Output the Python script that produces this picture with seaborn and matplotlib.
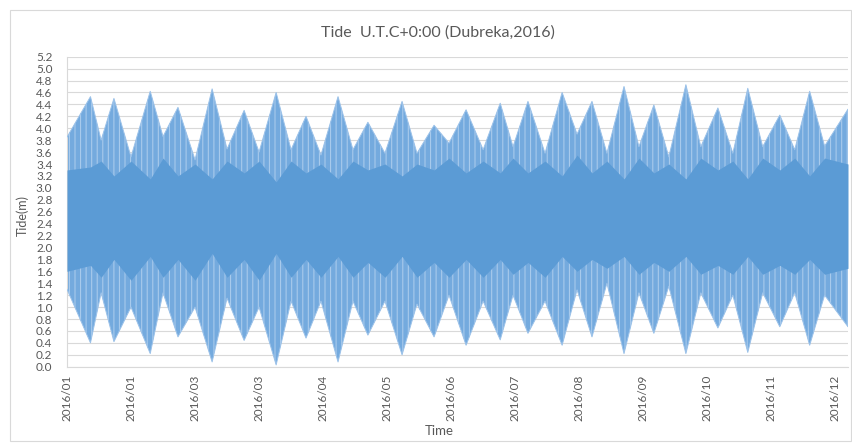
import numpy as np
import pandas as pd
import matplotlib
matplotlib.use("Agg")
import matplotlib.pyplot as plt
import seaborn as sns
from matplotlib.patches import Rectangle

# Envelope nodes (spring peaks and neap dips), metres
node_dates = ["2016-01-01 00:00", "2016-01-12 00:00", "2016-01-17 00:00", "2016-01-23 00:00", "2016-01-31 00:00",
              "2016-02-09 00:00", "2016-02-15 00:00", "2016-02-22 00:00", "2016-03-01 00:00", "2016-03-09 00:00",
              "2016-03-16 00:00", "2016-03-24 00:00", "2016-03-31 00:00", "2016-04-08 00:00", "2016-04-15 00:00",
              "2016-04-22 00:00", "2016-04-29 00:00", "2016-05-07 00:00", "2016-05-14 00:00", "2016-05-21 00:00",
              "2016-05-29 00:00", "2016-06-06 00:00", "2016-06-13 00:00", "2016-06-21 00:00", "2016-06-28 00:00",
              "2016-07-06 00:00", "2016-07-14 00:00", "2016-07-22 00:00", "2016-07-28 00:00", "2016-08-04 00:00",
              "2016-08-12 00:00", "2016-08-20 00:00", "2016-08-27 00:00", "2016-09-03 00:00", "2016-09-10 00:00",
              "2016-09-18 00:00", "2016-09-25 00:00", "2016-10-02 00:00", "2016-10-09 00:00", "2016-10-17 00:00",
              "2016-10-24 00:00", "2016-11-01 00:00", "2016-11-08 00:00", "2016-11-15 00:00", "2016-11-22 00:00",
              "2016-11-30 00:00", "2016-12-07 00:00", "2016-12-14 00:00", "2016-12-21 00:00", "2016-12-31 23:00"]

high_water = [3.85, 4.53, 3.80, 4.50, 3.52, 4.62, 3.86, 4.35, 3.47, 4.66,
              3.65, 4.30, 3.60, 4.60, 3.64, 4.20, 3.55, 4.53, 3.64, 4.10,
              3.58, 4.45, 3.58, 4.05, 3.75, 4.31, 3.64, 4.42, 3.69, 4.45,
              3.58, 4.60, 3.90, 4.45, 3.58, 4.70, 3.69, 4.39, 3.52, 4.73,
              3.69, 4.34, 3.58, 4.67, 3.69, 4.22, 3.64, 4.62, 3.70, 4.32]

low_water = [1.30, 0.40, 1.24, 0.42, 1.00, 0.22, 1.24, 0.50, 1.00, 0.08,
             1.15, 0.44, 1.00, 0.03, 1.10, 0.48, 1.10, 0.08, 1.10, 0.53,
             1.10, 0.20, 1.05, 0.50, 1.20, 0.36, 1.10, 0.45, 1.20, 0.56,
             1.10, 0.36, 1.29, 0.50, 1.40, 0.22, 1.24, 0.56, 1.35, 0.22,
             1.24, 0.65, 1.20, 0.24, 1.24, 0.67, 1.24, 0.36, 1.20, 0.67]

# Dense core band (where most of the hourly curve overlaps)
core_high = [3.30, 3.35, 3.45, 3.20, 3.45, 3.15, 3.50, 3.20, 3.40, 3.15,
             3.45, 3.25, 3.45, 3.10, 3.45, 3.25, 3.40, 3.15, 3.45, 3.30,
             3.40, 3.20, 3.40, 3.30, 3.50, 3.25, 3.45, 3.25, 3.50, 3.25,
             3.45, 3.20, 3.55, 3.25, 3.45, 3.15, 3.50, 3.25, 3.40, 3.15,
             3.50, 3.30, 3.45, 3.15, 3.50, 3.30, 3.50, 3.20, 3.50, 3.40]

core_low = [1.60, 1.70, 1.50, 1.80, 1.45, 1.85, 1.50, 1.80, 1.45, 1.90,
            1.50, 1.80, 1.45, 1.90, 1.50, 1.80, 1.50, 1.85, 1.50, 1.75,
            1.50, 1.85, 1.50, 1.75, 1.50, 1.80, 1.50, 1.80, 1.55, 1.75,
            1.50, 1.85, 1.60, 1.80, 1.65, 1.85, 1.55, 1.75, 1.60, 1.85,
            1.55, 1.70, 1.55, 1.85, 1.55, 1.70, 1.55, 1.80, 1.55, 1.65]

tick_labels = ["2016/01", "2016/01", "2016/03", "2016/03", "2016/04", "2016/05",
               "2016/06", "2016/07", "2016/08", "2016/09", "2016/10", "2016/11",
               "2016/12"]

df = pd.DataFrame({
    "time": pd.to_datetime(node_dates, format="%Y-%m-%d %H:%M"),
    "high": high_water,
    "low": low_water,
    "core_high": core_high,
    "core_low": core_low,
})

sns.set_theme(style="white")
plt.rcParams['font.family'] = ['Lato', 'DejaVu Sans']
plt.rcParams['hatch.linewidth'] = 0.8
plt.rcParams['hatch.color'] = "#A8CAEC"

W, H = 853, 443
fig = plt.figure(figsize=(W / 100, H / 100), dpi=100)
fig.patch.set_facecolor("white")
ax = fig.add_axes([67 / W, 1 - 366.7 / H, 781 / W, 310 / H])

mid = "#74AADE"
dark = "#5B9BD5"
ax.fill_between(df["time"], df["low"], df["high"], facecolor=mid, edgecolor="#A8CAEC",
                hatch="|||", lw=0, zorder=2)
ax.fill_between(df["time"], df["core_low"], df["core_high"], color=dark, lw=0, zorder=3)
sns.lineplot(data=df, x="time", y="high", ax=ax, color="#9CC2E9", lw=0.7, zorder=3)
sns.lineplot(data=df, x="time", y="low", ax=ax, color="#9CC2E9", lw=0.7, zorder=3)

ax.set_ylim(0, 5.2)
yt = np.round(np.arange(0, 5.21, 0.2), 1)
ax.set_yticks(yt)
ax.set_yticklabels([f"{v:.1f}" for v in yt], fontsize=8.5, color="#595959")

ticks = pd.date_range("2016-01-01", periods=13, freq="30D")
ax.set_xlim(pd.Timestamp("2016-01-01"), pd.Timestamp("2016-12-31 23:00"))
ax.set_xticks(ticks)
ax.set_xticklabels(tick_labels, rotation=90, fontsize=8.5, color="#595959")
ax.tick_params(axis="y", length=0, pad=10.5)
ax.tick_params(axis="x", length=0, pad=6)

ax.grid(axis="y", color="#D9D9D9", lw=0.8, zorder=0)
ax.grid(axis="x", visible=False)
ax.set_axisbelow(True)
for s in ["top", "right"]:
    ax.spines[s].set_visible(False)
ax.spines["left"].set_color("#D9D9D9")
ax.spines["bottom"].set_color("#D9D9D9")
ax.spines["left"].set_linewidth(0.8)
ax.spines["bottom"].set_linewidth(0.8)

ax.set_xlabel("")
ax.set_ylabel("")
fig.text(438 / W, 1 - 33 / H, "Tide  U.T.C+0:00 (Dubreka,2016)", ha="center", va="center",
         fontsize=11.5, color="#595959")
fig.text(23 / W, 1 - 215 / H, "Tide(m)", ha="center", va="center", rotation=90,
         fontsize=9, color="#595959")
fig.text(439 / W, 1 - 431 / H, "Time", ha="center", va="center",
         fontsize=9.5, color="#595959")

fig.add_artist(Rectangle((10 / W, 2 / H), (W - 12) / W, (H - 12) / H,
                         transform=fig.transFigure, fill=False,
                         edgecolor="#D9D9D9", lw=0.8))

fig.savefig("out.png", dpi=100)
